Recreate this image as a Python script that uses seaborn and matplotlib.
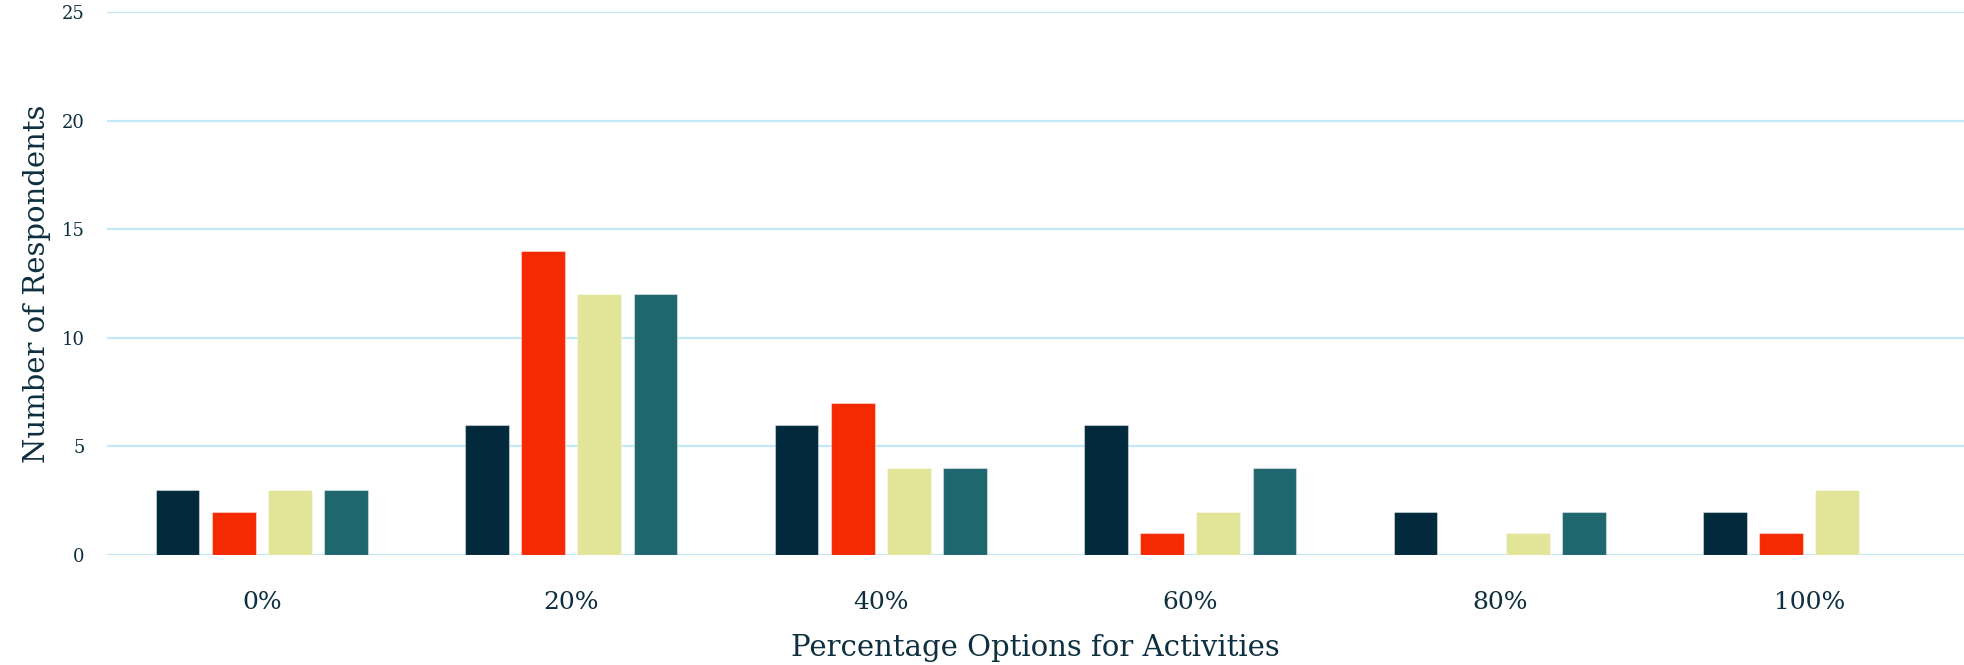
import pandas as pd
import matplotlib.pyplot as plt
import seaborn as sns

options = ['0%', '20%', '40%', '60%', '80%', '100%']
series = ['Activity A', 'Activity B', 'Activity C', 'Activity D']
activity_a = [3, 6, 6, 6, 2, 2]
activity_b = [2, 14, 7, 1, 0, 1]
activity_c = [3, 12, 4, 2, 1, 3]
activity_d = [3, 12, 4, 4, 2, 0]
colors = ['#022a3c', '#f52a00', '#e2e598', '#20666e']

rows = []
for name, vals in zip(series, [activity_a, activity_b, activity_c, activity_d]):
    for opt, v in zip(options, vals):
        rows.append({'Option': opt, 'Series': name, 'Count': v})
df = pd.DataFrame(rows)

sns.set_style('white')
plt.rcParams['font.family'] = ['DejaVu Serif']
text_color = '#0d2f3f'

fig = plt.figure(figsize=(19.64, 6.65), dpi=100)
ax = fig.add_axes([107 / 1964, 110 / 665, 1857 / 1964, 543 / 665])

sns.barplot(data=df, x='Option', y='Count', hue='Series', order=options,
            hue_order=series, palette=colors, saturation=1, width=0.726, gap=0.22,
            edgecolor=(1, 1, 1, 0.4), linewidth=0.8, ax=ax, zorder=3)
ax.get_legend().remove()

ax.set_xlim(-0.5, 5.5)
ax.set_ylim(0, 25)
ax.set_yticks([0, 5, 10, 15, 20, 25])
ax.yaxis.grid(True, color='#c2e8f8', linewidth=1.6, zorder=0)
ax.set_axisbelow(True)
for s in ax.spines.values():
    s.set_visible(False)

ax.tick_params(axis='y', length=0, pad=16, labelsize=13, labelcolor=text_color)
ax.tick_params(axis='x', length=0, pad=26, labelsize=18, labelcolor=text_color)
ax.set_xlabel('Percentage Options for Activities', fontsize=21, color=text_color, labelpad=14)
ax.set_ylabel('Number of Respondents', fontsize=21, color=text_color, labelpad=8)

fig.savefig('out.png', dpi=100)
